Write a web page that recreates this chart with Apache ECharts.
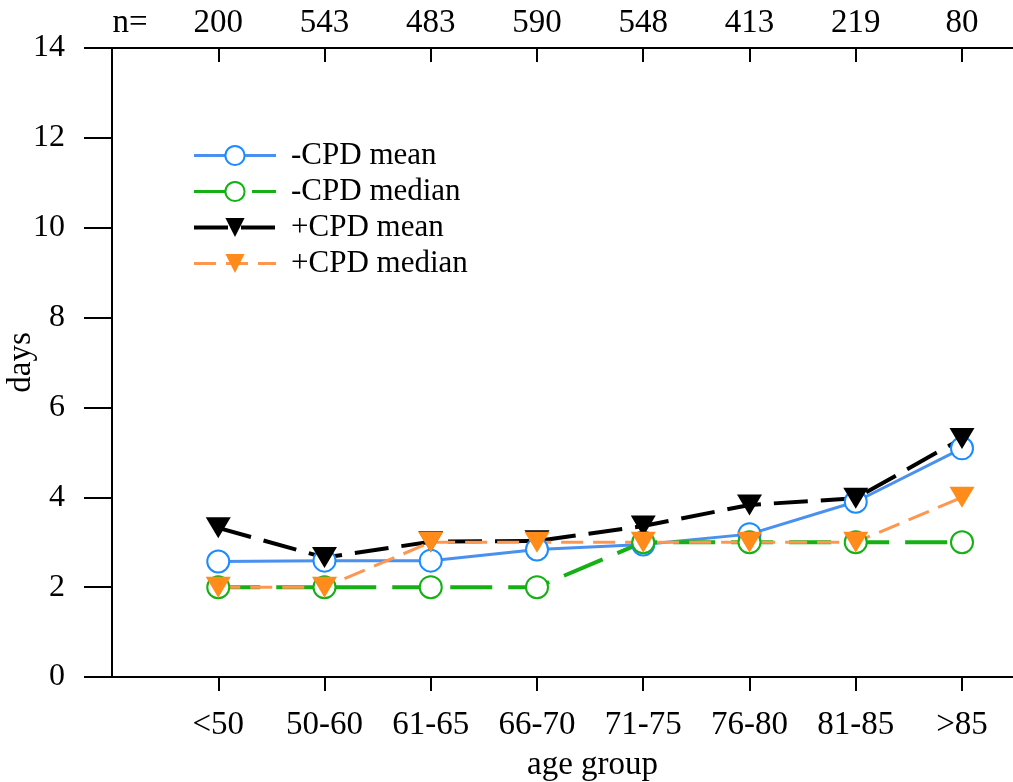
<!DOCTYPE html>
<html>
<head>
<meta charset="utf-8">
<script src="https://cdn.jsdelivr.net/npm/echarts@6/dist/echarts.min.js"></script>
<style>
html, body { margin: 0; padding: 0; background: #fff; }
#main { width: 1013px; height: 782px; }
</style>
</head>
<body>
<div id="main"></div>
<script>
var ageGroups = ['<50', '50-60', '61-65', '66-70', '71-75', '76-80', '81-85', '>85'];
var counts = [200, 543, 483, 590, 548, 413, 219, 80];

var minusMean = [2.57, 2.59, 2.59, 2.84, 2.95, 3.18, 3.9, 5.09];
var minusMedian = [2, 2, 2, 2, 3, 3, 3, 3];
var plusMean = [3.32, 2.66, 3.01, 3.03, 3.36, 3.83, 3.98, 5.31];
var plusMedian = [2, 2, 3, 3, 3, 3, 3, 4];

var font = 'Liberation Serif';

// categories sit at 1..8 on a value axis, like the original plot
function toPoints(arr) {
    var out = [];
    for (var i = 0; i < arr.length; i++) {
        out.push([i + 1, arr[i]]);
    }
    return out;
}

function positions(n, from) {
    var out = [];
    for (var i = from; i <= n; i++) out.push(i);
    return out;
}

function drawChart() {
    var myChart = echarts.init(document.getElementById('main'));
    var catPos = positions(ageGroups.length, 1);

    var option = {
        animation: false,
        grid: {
            left: 112,
            right: 0,
            top: 48,
            bottom: 105,
            outerBoundsMode: 'none'
        },
        legend: {
            orient: 'vertical',
            left: 192,
            top: 140,
            padding: 0,
            itemWidth: 82,
            itemHeight: 24,
            itemGap: 5,
            textStyle: {
                fontFamily: font,
                fontSize: 31,
                color: '#000',
                padding: [0, 0, 0, 10]
            },
            data: [
                { name: '-CPD mean', lineStyle: { width: 3 } },
                { name: '-CPD median', lineStyle: { width: 3 } },
                { name: '+CPD mean', lineStyle: { width: 4 } },
                { name: '+CPD median', lineStyle: { width: 3 } }
            ]
        },
        xAxis: [{
            type: 'value',
            position: 'bottom',
            min: 0,
            max: 8.48,
            interval: 1,
            name: 'age group',
            nameLocation: 'middle',
            nameGap: 72,
            nameMoveOverlap: false,
            nameTextStyle: {
                fontFamily: font,
                fontSize: 33,
                color: '#000',
                padding: [0, 0, 0, 60]
            },
            splitLine: { show: false },
            axisLine: { lineStyle: { color: '#000', width: 2 } },
            axisTick: {
                inside: false,
                length: 14,
                customValues: catPos,
                lineStyle: { color: '#000', width: 2 }
            },
            axisLabel: {
                margin: 32,
                fontFamily: font,
                fontSize: 33,
                color: '#000',
                customValues: catPos,
                formatter: function (v) {
                    return ageGroups[Math.round(v) - 1] || '';
                }
            }
        }, {
            type: 'value',
            position: 'top',
            min: 0,
            max: 8.48,
            interval: 1,
            splitLine: { show: false },
            axisLine: { onZero: false, lineStyle: { color: '#000', width: 2 } },
            axisTick: {
                inside: true,
                length: 14,
                customValues: catPos,
                lineStyle: { color: '#000', width: 2 }
            },
            axisLabel: {
                margin: 8,
                fontFamily: font,
                fontSize: 33,
                color: '#000',
                customValues: positions(counts.length, 0),
                formatter: function (v) {
                    var i = Math.round(v);
                    if (i === 0) return '{n|n=}';
                    return String(counts[i - 1]);
                },
                rich: {
                    n: {
                        fontFamily: font,
                        fontSize: 33,
                        color: '#000',
                        padding: [0, 0, 0, 36]
                    }
                }
            }
        }],
        yAxis: {
            type: 'value',
            min: 0,
            max: 14,
            interval: 2,
            name: 'days',
            nameLocation: 'middle',
            nameGap: 74,
            nameMoveOverlap: false,
            nameTextStyle: {
                fontFamily: font,
                fontSize: 33,
                color: '#000'
            },
            splitLine: { show: false },
            axisLine: { show: true, lineStyle: { color: '#000', width: 2 } },
            axisTick: {
                show: true,
                inside: false,
                length: 28,
                lineStyle: { color: '#000', width: 2 }
            },
            axisLabel: {
                margin: 47,
                fontFamily: font,
                fontSize: 32,
                color: '#000'
            }
        },
        series: [{
            name: '-CPD mean',
            type: 'line',
            data: toPoints(minusMean),
            symbol: 'circle',
            symbolSize: 22,
            itemStyle: { color: '#fff', borderColor: '#1a8cff', borderWidth: 2 },
            lineStyle: { color: '#4a90f0', width: 3, type: 'solid' }
        }, {
            name: '-CPD median',
            type: 'line',
            data: toPoints(minusMedian),
            symbol: 'circle',
            symbolSize: 22,
            itemStyle: { color: '#fff', borderColor: '#14b014', borderWidth: 2 },
            lineStyle: { color: '#14b014', width: 4, type: [42, 16] }
        }, {
            name: '+CPD mean',
            type: 'line',
            data: toPoints(plusMean),
            symbol: 'triangle',
            symbolRotate: 180,
            symbolSize: [25, 21],
            itemStyle: { color: '#000' },
            lineStyle: { color: '#000', width: 4, type: [34, 13] }
        }, {
            name: '+CPD median',
            type: 'line',
            data: toPoints(plusMedian),
            symbol: 'triangle',
            symbolRotate: 180,
            symbolSize: [25, 21],
            itemStyle: { color: '#ff8c1a' },
            lineStyle: { color: '#ff9650', width: 3, type: [22, 10] }
        }]
    };

    myChart.setOption(option);
}

drawChart();
</script>
</body>
</html>
